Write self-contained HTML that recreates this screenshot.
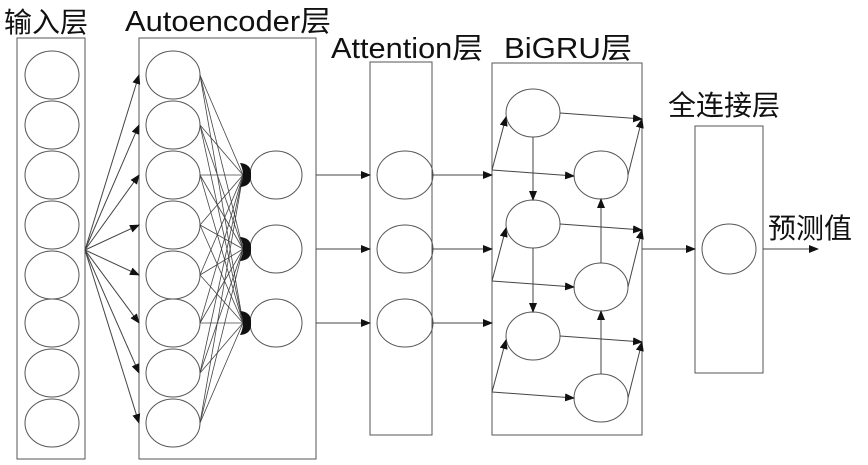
<!DOCTYPE html>
<html><head><meta charset="utf-8"><style>
html,body{margin:0;padding:0;background:#fff;width:868px;height:465px;overflow:hidden}
svg{display:block}
text{font-family:"Liberation Sans","Noto Sans CJK SC",sans-serif;fill:#111}
</style></head><body>
<svg width="868" height="465" viewBox="0 0 868 465" xmlns="http://www.w3.org/2000/svg">
<defs>
<marker id="a" markerWidth="10" markerHeight="8" refX="9" refY="4" orient="auto" markerUnits="userSpaceOnUse">
<path d="M0,0 L10,4 L0,8 Z" fill="#111"/></marker>
</defs>
<g stroke="#555" stroke-width="1" fill="none">
<rect x="17" y="38" width="68" height="421"/>
<rect x="139" y="38" width="177" height="421"/>
<rect x="370" y="62" width="62" height="373"/>
<rect x="492" y="63" width="150" height="372"/>
<rect x="695" y="126" width="68" height="247"/>
<ellipse cx="52" cy="75" rx="27" ry="24"/><ellipse cx="52" cy="125" rx="27" ry="24"/>
<ellipse cx="52" cy="175" rx="27" ry="24"/><ellipse cx="52" cy="225" rx="27" ry="24"/>
<ellipse cx="52" cy="275" rx="27" ry="24"/><ellipse cx="52" cy="323" rx="27" ry="24"/>
<ellipse cx="52" cy="373" rx="27" ry="24"/><ellipse cx="52" cy="423" rx="27" ry="24"/>
<ellipse cx="173" cy="75" rx="27" ry="24"/><ellipse cx="173" cy="125" rx="27" ry="24"/>
<ellipse cx="173" cy="175" rx="27" ry="24"/><ellipse cx="173" cy="225" rx="27" ry="24"/>
<ellipse cx="173" cy="275" rx="27" ry="24"/><ellipse cx="173" cy="323" rx="27" ry="24"/>
<ellipse cx="173" cy="373" rx="27" ry="24"/><ellipse cx="173" cy="423" rx="27" ry="24"/>
<ellipse cx="276" cy="175" rx="26" ry="24"/><ellipse cx="276" cy="249" rx="26" ry="24"/><ellipse cx="276" cy="323" rx="26" ry="24"/>
<ellipse cx="405" cy="175" rx="28" ry="24"/><ellipse cx="405" cy="249" rx="28" ry="24"/><ellipse cx="405" cy="323" rx="28" ry="24"/>
<ellipse cx="533" cy="113" rx="27" ry="24"/><ellipse cx="533" cy="224" rx="27" ry="24"/><ellipse cx="533" cy="336" rx="27" ry="24"/>
<ellipse cx="601" cy="175" rx="27" ry="24"/><ellipse cx="601" cy="287" rx="27" ry="24"/><ellipse cx="601" cy="398" rx="27" ry="24"/>
<ellipse cx="729" cy="249" rx="27" ry="25"/>
</g>
<g stroke="#444" stroke-width="1" fill="none" marker-end="url(#a)">
<line x1="85" y1="250" x2="139" y2="75"/><line x1="85" y1="250" x2="139" y2="125"/>
<line x1="85" y1="250" x2="139" y2="175"/><line x1="85" y1="250" x2="139" y2="225"/>
<line x1="85" y1="250" x2="139" y2="275"/><line x1="85" y1="250" x2="139" y2="323"/>
<line x1="85" y1="250" x2="139" y2="373"/><line x1="85" y1="250" x2="139" y2="423"/>
<line x1="316" y1="175" x2="370" y2="175"/><line x1="316" y1="249" x2="370" y2="249"/><line x1="316" y1="323" x2="370" y2="323"/>
<line x1="432" y1="175" x2="492" y2="175"/><line x1="432" y1="249" x2="492" y2="249"/><line x1="432" y1="323" x2="492" y2="323"/>
<line x1="492" y1="170" x2="506" y2="117"/><line x1="492" y1="170" x2="574" y2="176"/>
<line x1="492" y1="281" x2="506" y2="228"/><line x1="492" y1="281" x2="574" y2="287"/>
<line x1="492" y1="392" x2="506" y2="340"/><line x1="492" y1="392" x2="574" y2="398"/>
<line x1="560" y1="113" x2="642" y2="119"/><line x1="560" y1="224" x2="642" y2="230"/><line x1="560" y1="336" x2="642" y2="342"/>
<line x1="628" y1="175" x2="642" y2="119"/><line x1="628" y1="287" x2="642" y2="230"/><line x1="628" y1="398" x2="642" y2="342"/>
<line x1="533" y1="137" x2="533" y2="200"/><line x1="533" y1="248" x2="533" y2="312"/>
<line x1="601" y1="374" x2="601" y2="311"/><line x1="601" y1="263" x2="601" y2="199"/>
<line x1="642" y1="249" x2="695" y2="249"/>
<line x1="763" y1="249" x2="818" y2="249"/>
</g>
<g stroke="#444" stroke-width="0.8">
<line x1="200" y1="75" x2="243" y2="175"/><line x1="200" y1="75" x2="243" y2="249"/><line x1="200" y1="75" x2="243" y2="323"/>
<line x1="200" y1="125" x2="243" y2="175"/><line x1="200" y1="125" x2="243" y2="249"/><line x1="200" y1="125" x2="243" y2="323"/>
<line x1="200" y1="175" x2="243" y2="175"/><line x1="200" y1="175" x2="243" y2="249"/><line x1="200" y1="175" x2="243" y2="323"/>
<line x1="200" y1="225" x2="243" y2="175"/><line x1="200" y1="225" x2="243" y2="249"/><line x1="200" y1="225" x2="243" y2="323"/>
<line x1="200" y1="275" x2="243" y2="175"/><line x1="200" y1="275" x2="243" y2="249"/><line x1="200" y1="275" x2="243" y2="323"/>
<line x1="200" y1="323" x2="243" y2="175"/><line x1="200" y1="323" x2="243" y2="249"/><line x1="200" y1="323" x2="243" y2="323"/>
<line x1="200" y1="373" x2="243" y2="175"/><line x1="200" y1="373" x2="243" y2="249"/><line x1="200" y1="373" x2="243" y2="323"/>
<line x1="200" y1="423" x2="243" y2="175"/><line x1="200" y1="423" x2="243" y2="249"/><line x1="200" y1="423" x2="243" y2="323"/>
</g>
<g fill="#111">
<path d="M240,163 Q252,164 251,175 Q252,186 240,187 Q246,175 240,163 Z"/>
<path d="M240,237 Q252,238 251,249 Q252,260 240,261 Q246,249 240,237 Z"/>
<path d="M240,311 Q252,312 251,323 Q252,334 240,335 Q246,323 240,311 Z"/>
</g>
<text x="4" y="32" font-size="28">输入层</text>
<text x="125" y="31" font-size="29" textLength="206" lengthAdjust="spacingAndGlyphs">Autoencoder层</text>
<text x="331" y="58" font-size="29" textLength="152" lengthAdjust="spacingAndGlyphs">Attention层</text>
<text x="504" y="58" font-size="29" textLength="128" lengthAdjust="spacingAndGlyphs">BiGRU层</text>
<text x="668" y="115" font-size="28">全连接层</text>
<text x="768" y="238" font-size="28">预测值</text>
</svg>
</body></html>
